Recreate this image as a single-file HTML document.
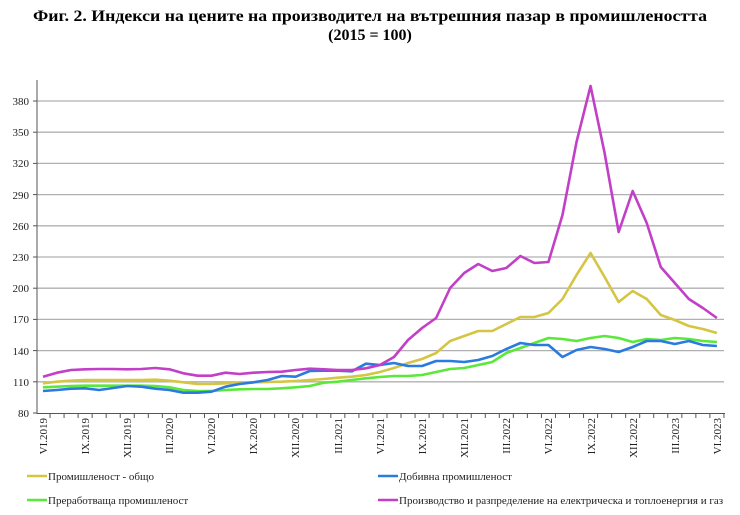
<!DOCTYPE html>
<html><head><meta charset="utf-8">
<style>
html,body{margin:0;padding:0;background:#fff;}
svg{display:block;font-family:"Liberation Serif",serif;}
</style></head>
<body>
<svg id="s" width="740" height="515" viewBox="0 0 740 515" xmlns="http://www.w3.org/2000/svg">
<text x="370" y="21" text-anchor="middle" font-size="16" font-weight="bold" textLength="674" lengthAdjust="spacingAndGlyphs">Фиг. 2. Индекси на цените на производител на вътрешния пазар в промишлеността</text>
<text x="370" y="40" text-anchor="middle" font-size="16" font-weight="bold">(2015 = 100)</text>
<g id="grid" stroke="#b0b0b0" stroke-width="1.3"></g>
<line x1="37" y1="80" x2="37" y2="414" stroke="#555" stroke-width="1"/>
<line x1="37" y1="413.5" x2="725" y2="413.5" stroke="#555" stroke-width="1"/>
<g id="ticks" stroke="#555" stroke-width="1"></g>
<g font-size="11" fill="#222" text-anchor="end">
<text x="29" y="417">80</text><text x="29" y="386">110</text><text x="29" y="355">140</text><text x="29" y="323">170</text><text x="29" y="292">200</text><text x="29" y="261">230</text><text x="29" y="230">260</text><text x="29" y="199">290</text><text x="29" y="167">320</text><text x="29" y="136">350</text><text x="29" y="105">380</text>
</g>
<g font-size="11" fill="#222" text-anchor="end">
<text transform="translate(47,418) rotate(-90)">VI.2019</text>
<text transform="translate(89,418) rotate(-90)">IX.2019</text>
<text transform="translate(131,418) rotate(-90)">XII.2019</text>
<text transform="translate(173,418) rotate(-90)">III.2020</text>
<text transform="translate(215,418) rotate(-90)">VI.2020</text>
<text transform="translate(257,418) rotate(-90)">IX.2020</text>
<text transform="translate(299,418) rotate(-90)">XII.2020</text>
<text transform="translate(342,418) rotate(-90)">III.2021</text>
<text transform="translate(384,418) rotate(-90)">VI.2021</text>
<text transform="translate(426,418) rotate(-90)">IX.2021</text>
<text transform="translate(468,418) rotate(-90)">XII.2021</text>
<text transform="translate(510,418) rotate(-90)">III.2022</text>
<text transform="translate(552,418) rotate(-90)">VI.2022</text>
<text transform="translate(595,418) rotate(-90)">IX.2022</text>
<text transform="translate(637,418) rotate(-90)">XII.2022</text>
<text transform="translate(679,418) rotate(-90)">III.2023</text>
<text transform="translate(721,418) rotate(-90)">VI.2023</text>
</g>
<g id="lines" fill="none" stroke-width="2.6" stroke-linejoin="round"></g>
<g font-size="11" fill="#222">
<line x1="27" y1="476" x2="47" y2="476" stroke="#d4c542" stroke-width="2.6"/>
<text x="48" y="480">Промишленост - общо</text>
<line x1="27" y1="500" x2="47" y2="500" stroke="#5ae83a" stroke-width="2.6"/>
<text x="48" y="504">Преработваща промишленост</text>
<line x1="378" y1="476" x2="398" y2="476" stroke="#2a7ae0" stroke-width="2.6"/>
<text x="399" y="480">Добивна промишленост</text>
<line x1="378" y1="500" x2="398" y2="500" stroke="#c23fc8" stroke-width="2.6"/>
<text x="399" y="504">Производство и разпределение на електрическа и топлоенергия и газ</text>
</g>
</svg>
<script>
var NS="http://www.w3.org/2000/svg";
function el(p,t,a){var e=document.createElementNS(NS,t);for(var k in a)e.setAttribute(k,a[k]);p.appendChild(e);}
var g=document.getElementById('grid');
for(var v=110;v<=380;v+=30){var y=413-(v-80)*1.04;el(g,'line',{x1:37,x2:724,y1:y,y2:y});}
var t=document.getElementById('ticks');
for(var k=0;k<49;k++){var x=50.02+14.04*k;el(t,'line',{x1:x,x2:x,y1:413,y2:418});}
for(var v=80;v<=380;v+=30){var y=413-(v-80)*1.04;el(t,'line',{x1:33,x2:37,y1:y,y2:y});}
var mag=[376.7,372.7,370,369.3,369,369,369.3,369,368,369.3,373.3,375.7,375.7,372.7,374,372.7,372,371.7,370,368.7,369.3,370,370,368.3,365,357,340,328,318,288,273,264,271,268,256,263,262,215,142,86,153,232,191,223,267,283,299,308,318];
var yel=[383.3,381.7,380.7,380,380,380,380,380,379.7,380.7,382.3,384,384,383.3,382.7,382.3,382,381.7,381,380,379,377.7,376.7,375,372,368,363,359,353,341,336,331,331,324,317,317,313,299,275,253,277,302,291,299,315,320,326,329,333];
var grn=[387.3,386.7,386,385.7,385.7,385.7,385.7,385.7,386,387.3,390,391,391,390,389.3,389,389,388.3,387.3,386,382.7,381.7,380,378.3,377,376,376,375,372,369,368,365,362,353,348,343,338,339,341,338,336,338,342,339,340,338,339,341,342];
var blu=[391,390,388.7,388.3,390,388,386,386.7,388.7,390,392.7,392.7,391.7,386.7,384,382.3,380,376,376.7,371,370.7,370.7,371.3,363.7,365,363,366,366,361,361,362,360,356,349,343,345,345,357,350,347,349,352,347,341,341,344,341,345,346];
var L=document.getElementById('lines');
[[grn,'#5ae83a'],[yel,'#d4c542'],[blu,'#2a7ae0'],[mag,'#c23fc8']].forEach(function(s){
var p=s[0].map(function(y,i){return (43+14.04*i).toFixed(2)+','+y;}).join(' ');
el(L,'polyline',{points:p,stroke:s[1]});});
</script>
</body></html>
